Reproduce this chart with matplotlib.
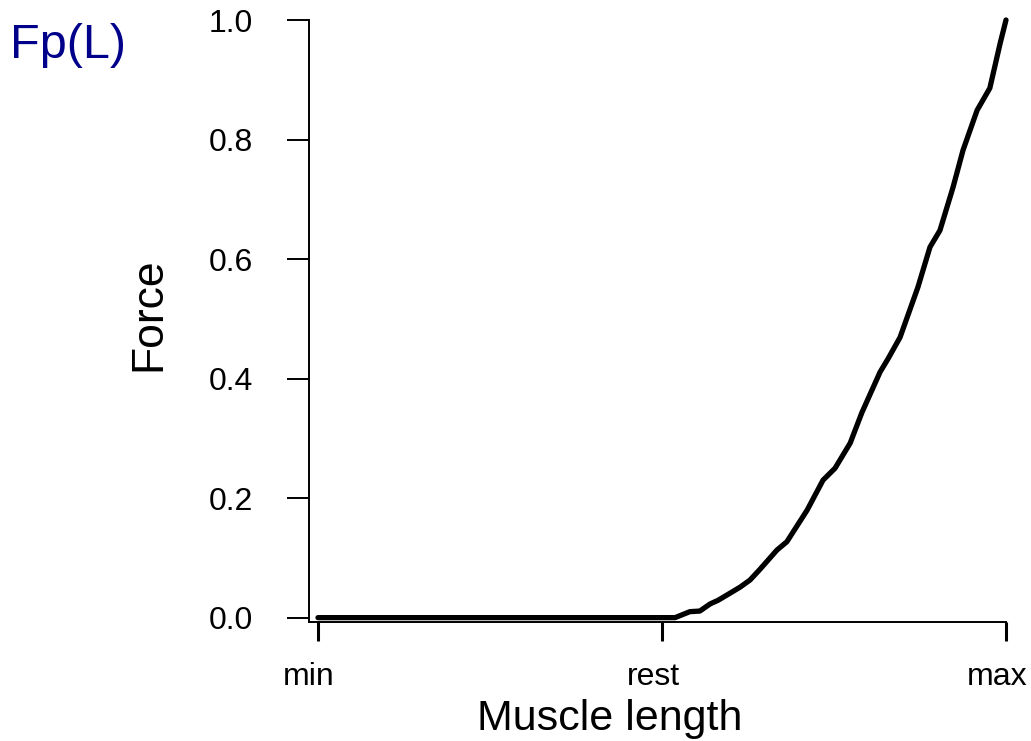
import numpy as np
import matplotlib
matplotlib.use("Agg")
import matplotlib.pyplot as plt
from matplotlib import transforms

plt.rcParams['font.family'] = ['Liberation Sans', 'DejaVu Sans']

# muscle length on a 0 (min) .. 1 (rest) .. 2 (max) scale
length = [0.0, 1.0, 1.038, 1.081, 1.110, 1.140, 1.163, 1.198, 1.227, 1.256,
          1.285, 1.334, 1.363, 1.422, 1.468, 1.503, 1.547, 1.581, 1.634,
          1.657, 1.692, 1.744, 1.779, 1.808, 1.846, 1.875, 1.916, 1.953,
          1.983, 2.0]
force = [0.0, 0.0, 0.0, 0.010, 0.011, 0.023, 0.029, 0.041, 0.051, 0.063,
         0.081, 0.113, 0.127, 0.180, 0.230, 0.250, 0.292, 0.343, 0.411,
         0.433, 0.469, 0.553, 0.620, 0.648, 0.720, 0.782, 0.849, 0.886,
         0.961, 1.0]

xticks = [0, 1, 2]
xticklabels = ['min', 'rest', 'max']
yticks = [0.0, 0.2, 0.4, 0.6, 0.8, 1.0]

W, H = 1031, 741
fig = plt.figure(figsize=(W / 100, H / 100), dpi=100)

# axes box in pixels: left 308.5, right 1006, top 20, bottom 622
ax = fig.add_axes([308.5 / W, (H - 622) / H, (1006 - 308.5) / W, (622 - 20) / H])
ax.plot(length, force, color='black', lw=3.8, clip_on=False,
        solid_capstyle='round', solid_joinstyle='round')

ax.set_xlim(-0.0276, 2.0)
ax.set_ylim(-0.0073, 1.0)

for s in ['top', 'right']:
    ax.spines[s].set_visible(False)
for s in ['left', 'bottom']:
    ax.spines[s].set_linewidth(1.4)

ax.set_xticks(xticks)
ax.set_xticklabels(xticklabels)
ax.set_yticks(yticks)
ax.set_yticklabels(['%.1f' % v for v in yticks])
ax.tick_params(axis='x', length=14, width=2.2, pad=15, labelsize=23)
ax.tick_params(axis='y', length=16, width=1.4, pad=24, labelsize=23)

shift = transforms.ScaledTranslation(-9 / 100, 0, fig.dpi_scale_trans)
for lab in ax.get_xticklabels():
    lab.set_transform(lab.get_transform() + shift)

fig.text(610 / W, (H - 730) / H, 'Muscle length', ha='center', va='baseline',
         fontsize=31)
fig.text(149 / W, (H - 314) / H, 'Force', ha='center', va='center',
         rotation=90, fontsize=32)
fig.text(10 / W, (H - 45) / H, 'Fp(L)', ha='left', va='center',
         fontsize=35, color='#00008B')

plt.savefig('out.png', dpi=100)
